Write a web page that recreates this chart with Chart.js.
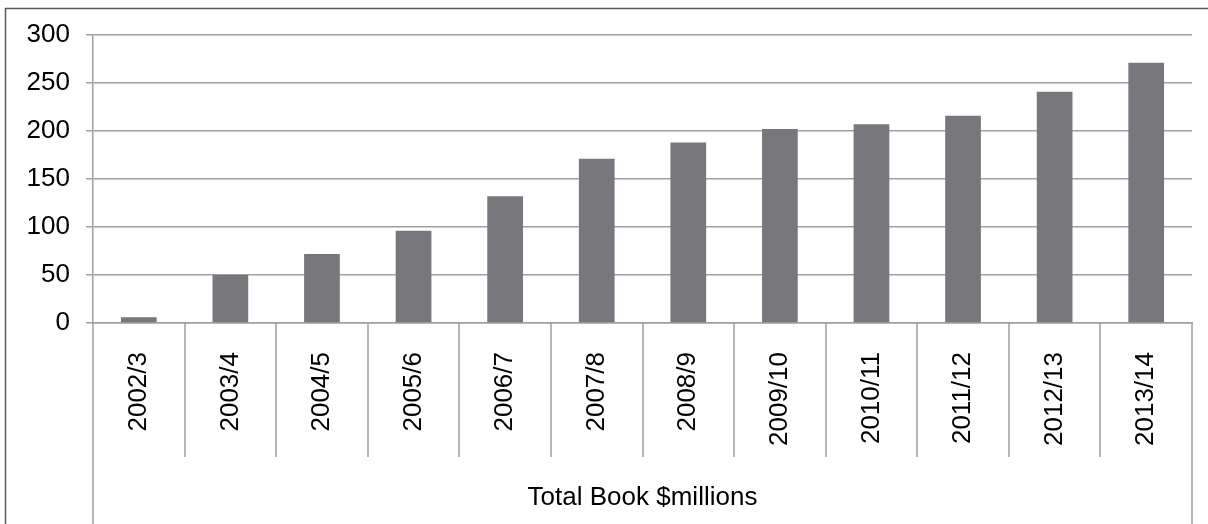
<!DOCTYPE html>
<html>
<head>
<meta charset="utf-8">
<title>Total Book $millions</title>
<script src="https://cdn.jsdelivr.net/npm/chart.js@4.4.1/dist/chart.umd.min.js"></script>
<style>
  html, body { margin: 0; padding: 0; background: #fff; overflow: hidden; }
  canvas { display: block; }
</style>
</head>
<body>
<canvas id="bookChart" width="1208" height="524"></canvas>
<script>
const categories = ['2002/3', '2003/4', '2004/5', '2005/6', '2006/7', '2007/8',
  '2008/9', '2009/10', '2010/11', '2011/12', '2012/13', '2013/14'];
const totalBook = [6, 50, 72, 96, 132, 171, 188, 202, 207, 216, 241, 271];
const yMin = 0;
const yMax = 300;
const yStep = 50;
const groupLabel = 'Total Book $millions';

const gridColor = '#a0a0a0';
const fontFamily = '"Liberation Sans", Arial, sans-serif';

// outer frame, category separators and the long axis edges of the grouped axis
const framePlugin = {
  id: 'framePlugin',
  beforeDraw(chart) {
    const ctx = chart.ctx;
    ctx.save();
    ctx.strokeStyle = '#595959';
    ctx.lineWidth = 1.5;
    ctx.beginPath();
    ctx.moveTo(5.5, chart.height);
    ctx.lineTo(5.5, 8.5);
    ctx.lineTo(chart.width, 8.5);
    ctx.stroke();
    ctx.restore();
  },
  afterDraw(chart) {
    const { ctx, chartArea } = chart;
    const xs = chart.scales.x;
    ctx.save();
    ctx.strokeStyle = gridColor;
    ctx.lineWidth = 1.5;
    ctx.beginPath();
    for (let i = 1; i < categories.length; i++) {
      const px = Math.round((xs.getPixelForValue(i - 1) + xs.getPixelForValue(i)) / 2);
      ctx.moveTo(px, chartArea.bottom);
      ctx.lineTo(px, chartArea.bottom + 134);
    }
    ctx.moveTo(chartArea.left, chartArea.bottom);
    ctx.lineTo(chartArea.left, chart.height);
    ctx.moveTo(chartArea.right, chartArea.bottom);
    ctx.lineTo(chartArea.right, chart.height);
    ctx.stroke();
    ctx.restore();
  }
};

const ctx = document.getElementById('bookChart').getContext('2d');
new Chart(ctx, {
  type: 'bar',
  data: {
    labels: categories,
    datasets: [
      {
        label: groupLabel,
        data: totalBook,
        backgroundColor: '#78787c',
        borderWidth: 0,
        categoryPercentage: 1,
        barPercentage: 0.39,
      },
    ],
  },
  options: {
    responsive: false,
    animation: false,
    devicePixelRatio: 1,
    layout: { padding: { left: 0, top: 35, right: 16, bottom: 0 } },
    plugins: {
      legend: { display: false },
      tooltip: { enabled: false },
    },
    scales: {
      x: {
        grid: { display: false },
        border: { display: true, color: gridColor, width: 1.5 },
        ticks: {
          color: '#000',
          font: { family: fontFamily, size: 26 },
          minRotation: 90,
          maxRotation: 90,
          padding: 21,
          autoSkip: false,
        },
        title: {
          display: true,
          text: groupLabel,
          color: '#000',
          font: { family: fontFamily, size: 26 },
          padding: { top: 0, bottom: 11 },
        },
        afterFit(scale) {
          scale.height = 201;
          scale.paddingLeft = 0;
          scale.paddingRight = 0;
        },
      },
      y: {
        min: yMin,
        max: yMax,
        ticks: {
          stepSize: yStep,
          color: '#000',
          font: { family: fontFamily, size: 26 },
          padding: 16,
        },
        grid: {
          color: gridColor,
          lineWidth: 1.5,
          drawTicks: true,
          tickLength: 7,
          tickColor: gridColor,
        },
        border: { display: true, color: gridColor, width: 1.5 },
        afterFit(scale) {
          scale.width = 93;
          scale.paddingTop = 0;
          scale.paddingBottom = 0;
        },
      },
    },
  },
  plugins: [framePlugin],
});
</script>
</body>
</html>
